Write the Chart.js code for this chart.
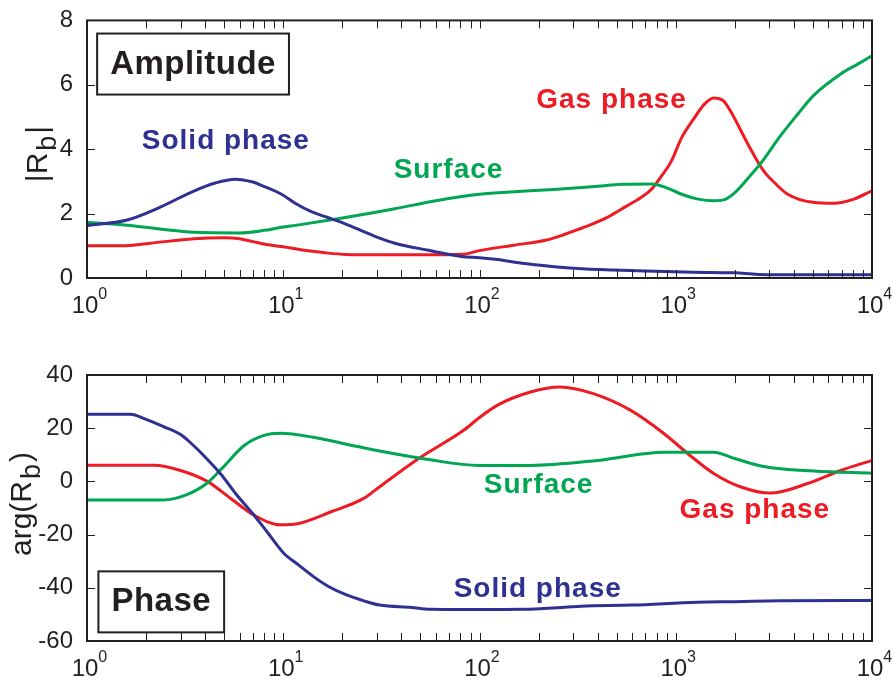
<!DOCTYPE html>
<html>
<head>
<meta charset="utf-8">
<script src="https://cdn.jsdelivr.net/npm/chart.js@4.4.1/dist/chart.umd.min.js"></script>
<style>
  body { margin: 0; background: #fff; }
  #wrap { position: relative; width: 893px; height: 681px; }
  canvas { position: absolute; left: 0; }
</style>
</head>
<body>
<div id="wrap">
  <canvas id="ampChart" width="893" height="330" style="top:0"></canvas>
  <canvas id="phaseChart" width="893" height="351" style="top:330px"></canvas>
</div>
<script>
// ---- amplitude |Rb| ----
const solidAmpX = [1, 1.6, 2.36, 3.5, 4.5, 5.7, 7, 7.8, 9.8, 11.5, 14, 17, 19.5, 25, 30, 37, 55, 81, 100, 120, 170, 240, 350, 480, 700, 1230, 2000, 2630, 5000, 10000];
const solidAmpY = [1.63, 1.8, 2.2, 2.7, 2.95, 3.07, 2.98, 2.87, 2.6, 2.32, 2.05, 1.87, 1.74, 1.47, 1.27, 1.08, 0.86, 0.67, 0.63, 0.58, 0.45, 0.35, 0.28, 0.25, 0.22, 0.18, 0.16, 0.11, 0.1, 0.1];

const surfAmpX = [1, 1.6, 2.36, 3.5, 6, 8, 9.5, 12, 19, 30, 37, 60, 100, 150, 240, 400, 530, 750, 900, 1070, 1300, 1560, 1800, 2000, 2300, 2700, 3450, 4200, 5000, 6900, 8500, 10000];
const surfAmpY = [1.73, 1.64, 1.52, 1.42, 1.40, 1.48, 1.56, 1.65, 1.84, 2.05, 2.15, 2.4, 2.6, 2.68, 2.75, 2.85, 2.91, 2.92, 2.8, 2.6, 2.45, 2.4, 2.45, 2.65, 3.05, 3.55, 4.45, 5.1, 5.65, 6.33, 6.65, 6.9];

const gasAmpX = [1, 1.5, 2.1, 3.5, 5, 6, 7, 8.4, 10, 12.5, 16, 21, 30, 50, 83, 100, 150, 220, 270, 350, 450, 550, 665, 750, 835, 950, 1070, 1240, 1400, 1560, 1750, 1910, 2340, 2810, 3200, 3700, 5000, 6400, 8100, 10000];
const gasAmpY = [1.0, 1.0, 1.08, 1.22, 1.25, 1.22, 1.13, 1.03, 0.97, 0.87, 0.79, 0.73, 0.72, 0.72, 0.74, 0.85, 1.02, 1.18, 1.35, 1.6, 1.89, 2.2, 2.5, 2.75, 3.12, 3.63, 4.35, 4.96, 5.4, 5.59, 5.5, 5.16, 4.14, 3.32, 2.95, 2.61, 2.35, 2.32, 2.45, 2.71];

// ---- phase arg(Rb) ----
const solidPhX = [1, 1.66, 2.0, 2.45, 3.0, 3.5, 3.9, 4.8, 5.8, 7.1, 8.3, 10, 12, 14.2, 17, 21, 26, 31, 45, 56, 100, 167, 250, 330, 600, 1290, 2000, 3450, 10000];
const solidPhY = [25.2, 25.2, 23.3, 20.6, 17.6, 13.4, 10.0, 2.8, -5.1, -12.7, -19.1, -26.8, -31.5, -35.7, -39.5, -42.7, -45, -46.5, -47.4, -48.1, -48.2, -48.1, -47.5, -46.9, -46.5, -45.4, -45.2, -44.9, -44.8];

const surfPhX = [1, 2.45, 3.2, 4.1, 4.9, 6.3, 7.9, 9.7, 14.2, 21, 31, 54, 100, 182, 400, 870, 1560, 2000, 2810, 5030, 10000];
const surfPhY = [-7.0, -7.0, -5.1, -0.6, 5.1, 13.4, 17.2, 18.1, 16.6, 14, 11.4, 8.3, 6, 6, 7.9, 11, 11, 8.6, 5.6, 3.9, 3.1];

const gasPhX = [1, 2.2, 3.0, 4.1, 5.4, 7.1, 9.7, 11.8, 17.4, 25.7, 31, 49, 83, 100, 123, 182, 257, 380, 590, 870, 1150, 1560, 2150, 3030, 4700, 6930, 10000];
const gasPhY = [6.1, 6.1, 4.1, 0, -6.4, -12.7, -16.3, -15.9, -11.5, -6.4, -2.0, 8.6, 19.2, 24, 28.6, 33.6, 35.5, 33, 26.7, 18, 10.5, 3, -2.1, -4.4, -0.8, 4.1, 7.9];

const xDecades = [0, 1, 2, 3, 4];
const ampTicks = [0, 2, 4, 6, 8];
const phaseTicks = [-60, -40, -20, 0, 20, 40];

const BLUE = '#2e3192', GREEN = '#00a651', RED = '#ed1c24', INK = '#231f20';
const FONT = "'Liberation Sans', Arial, Helvetica, sans-serif";

// minor tick positions on the log axis: 1..9 x 10^k
const xMinor = [];
for (let k = 0; k < 4; k++) for (let m = 1; m < 10; m++) xMinor.push(m * Math.pow(10, k));
xMinor.push(10000);

function pts(xs, ys) { return xs.map((v, i) => ({ x: v, y: ys[i] })); }

function line(ctx, x1, y1, x2, y2) {
  ctx.beginPath(); ctx.moveTo(x1, y1); ctx.lineTo(x2, y2); ctx.stroke();
}

const decor = {
  id: 'decor',
  afterDraw(chart, args, o) {
    const { ctx, chartArea: a, scales: { x, y } } = chart;
    ctx.save();
    ctx.strokeStyle = INK;
    ctx.lineWidth = 1;
    // inward ticks
    xMinor.forEach(v => {
      const px = Math.round(x.getPixelForValue(v)) + 0.5;
      line(ctx, px, a.bottom, px, a.bottom - 8);
      line(ctx, px, a.top, px, a.top + 8);
    });
    o.yTicks.forEach(v => {
      const py = Math.round(y.getPixelForValue(v)) + 0.5;
      line(ctx, a.left, py, a.left + 8, py);
      line(ctx, a.right, py, a.right - 8, py);
    });
    // frame
    ctx.lineWidth = 2;
    ctx.strokeRect(a.left, a.top, a.right - a.left, a.bottom - a.top);

    // x tick labels 10^k
    ctx.fillStyle = INK;
    ctx.textBaseline = 'alphabetic';
    xDecades.forEach(k => {
      const px = x.getPixelForValue(Math.pow(10, k));
      ctx.font = '24px ' + FONT;
      ctx.textAlign = 'center';
      const w = ctx.measureText('10').width;
      ctx.fillText('10', px - 2, a.bottom + 35);
      ctx.font = '16px ' + FONT;
      ctx.textAlign = 'left';
      ctx.fillText(String(k), px - 2 + w / 2, a.bottom + 21);
    });

    // y axis title with subscript
    ctx.save();
    ctx.translate(o.titleX, o.titleY);
    ctx.rotate(-Math.PI / 2);
    const parts = o.title;
    let total = 0;
    parts.forEach(p => { ctx.font = p[2] + 'px ' + FONT; total += ctx.measureText(p[0]).width + 2; });
    let cx = -total / 2;
    ctx.textAlign = 'left';
    parts.forEach(p => {
      ctx.font = p[2] + 'px ' + FONT;
      ctx.fillText(p[0], cx, p[1]);
      cx += ctx.measureText(p[0]).width + 2;
    });
    ctx.restore();

    // curve labels and boxed panel name
    ctx.textAlign = 'center';
    ctx.textBaseline = 'middle';
    o.notes.forEach(n => {
      const px = x.getPixelForValue(n.x), py = y.getPixelForValue(n.y);
      ctx.font = 'bold ' + n.size + 'px ' + FONT;
      ctx.letterSpacing = n.box ? '0.5px' : '1px';
      ctx.fillStyle = n.color;
      if (n.box) {
        const w = ctx.measureText(n.text).width;
        ctx.fillStyle = '#fff';
        ctx.fillRect(px - w / 2 - 13, py - 30, w + 26, 61);
        ctx.lineWidth = 2;
        ctx.strokeStyle = INK;
        ctx.strokeRect(px - w / 2 - 13, py - 30, w + 26, 61);
        ctx.fillStyle = n.color;
      }
      ctx.fillText(n.text, px, py + 1);
    });
    ctx.restore();
  }
};

function ds(data, color) {
  return {
    data: data, borderColor: color, borderWidth: 3, pointRadius: 0,
    fill: false, cubicInterpolationMode: 'monotone'
  };
}

function makeChart(id, datasets, yMin, yMax, step, pad, xH, deco) {
  return new Chart(document.getElementById(id), {
    type: 'line',
    data: { datasets: datasets },
    options: {
      responsive: false,
      animation: false,
      devicePixelRatio: 1,
      layout: { padding: pad },
      plugins: { legend: { display: false }, tooltip: { enabled: false }, decor: deco },
      scales: {
        x: {
          type: 'logarithmic', min: 1, max: 10000,
          grid: { display: false }, border: { display: false },
          ticks: { display: false },
          afterFit: s => { s.height = xH; }
        },
        y: {
          min: yMin, max: yMax,
          grid: { display: false }, border: { display: false },
          ticks: { stepSize: step, color: INK, padding: 6, font: { size: 24, family: FONT } },
          afterFit: s => { s.width = 87; }
        }
      }
    },
    plugins: [decor]
  });
}

makeChart('ampChart', [
  ds(pts(solidAmpX, solidAmpY), BLUE),
  ds(pts(surfAmpX, surfAmpY), GREEN),
  ds(pts(gasAmpX, gasAmpY), RED)
], 0, 8, 2, { left: 0, right: 21, top: 17, bottom: 0 }, 52, {
  yTicks: ampTicks,
  titleX: 47, titleY: 153,
  title: [['|R', 0, 30], ['b', 9, 27], ['|', 0, 30]],
  notes: [
    { text: 'Amplitude', x: 3.47, y: 6.66, color: INK, size: 33, box: true },
    { text: 'Solid phase', x: 5.1, y: 4.29, color: BLUE, size: 28 },
    { text: 'Surface', x: 69.5, y: 3.37, color: GREEN, size: 28 },
    { text: 'Gas phase', x: 471, y: 5.55, color: RED, size: 28 }
  ]
});

makeChart('phaseChart', [
  ds(pts(solidPhX, solidPhY), BLUE),
  ds(pts(surfPhX, surfPhY), GREEN),
  ds(pts(gasPhX, gasPhY), RED)
], -60, 40, 20, { left: 0, right: 21, top: 45, bottom: 0 }, 40, {
  yTicks: phaseTicks,
  titleX: 31, titleY: 173,
  title: [['arg(R', 0, 30], ['b', 9, 27], [')', 0, 30]],
  notes: [
    { text: 'Phase', x: 2.39, y: -45.1, color: INK, size: 33, box: true },
    { text: 'Surface', x: 200, y: -1.1, color: GREEN, size: 28 },
    { text: 'Gas phase', x: 2530, y: -10.5, color: RED, size: 28 },
    { text: 'Solid phase', x: 198, y: -40.2, color: BLUE, size: 28 }
  ]
});
</script>
</body>
</html>
